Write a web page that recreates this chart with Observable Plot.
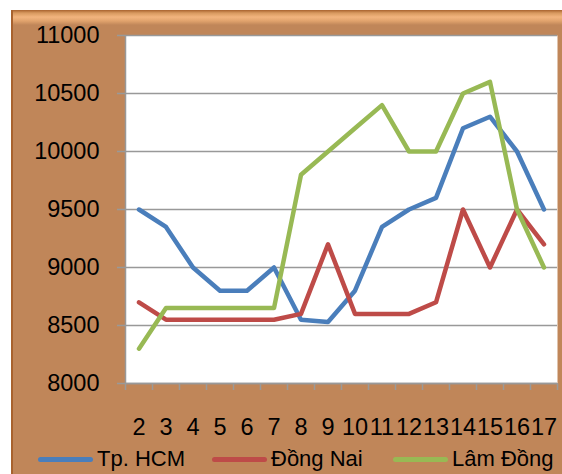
<!DOCTYPE html>
<html>
<head>
<meta charset="utf-8">
<script src="https://cdn.jsdelivr.net/npm/d3@7"></script>
<script src="https://cdn.jsdelivr.net/npm/@observablehq/plot@0.6"></script>
<style>
  html, body { margin: 0; padding: 0; background: #ffffff; }
  #frame {
    position: absolute; left: 11px; top: 10px; width: 551px; height: 464px;
    background: linear-gradient(to bottom, #a8622e 0px, #d8995f 3px, #f2b47e 7px, #e0a26c 11px, #c08659 15px, #c08659 100%);
    box-shadow: inset 2px 0 0 #a8622e;
    overflow: hidden;
    font-family: "Liberation Sans", Arial, sans-serif;
  }
  #chart { position: absolute; left: 0; top: 0; }
  #legend { position: absolute; left: 0; top: 434px; width: 551px; height: 30px; font-size: 22px; color: #000; }
  .item { position: absolute; top: 0; height: 30px; display: flex; align-items: center; white-space: nowrap; }
  .sw { width: 55px; height: 5px; border-radius: 3px; margin-right: 4px; }
</style>
</head>
<body>
<div id="frame">
  <div id="chart"></div>
  <div id="legend"></div>
</div>
<script>
const months = [2, 3, 4, 5, 6, 7, 8, 9, 10, 11, 12, 13, 14, 15, 16, 17];
const hcm     = [9500, 9350, 9000, 8800, 8800, 9000, 8550, 8530, 8800, 9350, 9500, 9600, 10200, 10300, 10000, 9500];
const dongNai = [8700, 8550, 8550, 8550, 8550, 8550, 8600, 9200, 8600, 8600, 8600, 8700, 9500, 9000, 9500, 9200];
const lamDong = [8300, 8650, 8650, 8650, 8650, 8650, 9800, 10000, 10200, 10400, 10000, 10000, 10500, 10600, 9500, 9000];
const seriesNames = ["Tp. HCM", "Đồng Nai", "Lâm Đồng"];
const seriesColors = ["#4a7ebb", "#be4b48", "#98b954"];
const yTicks = [8000, 8500, 9000, 9500, 10000, 10500, 11000];

const seriesValues = [hcm, dongNai, lamDong];
const rows = seriesNames.flatMap((name, i) =>
  months.map((m, j) => ({month: m, value: seriesValues[i][j], series: name})));
const edges = months.map(m => m - 0.5).concat([months[months.length - 1] + 0.5]);

const chart = Plot.plot({
  width: 551,
  height: 434,
  marginLeft: 114,
  marginRight: 5,
  marginTop: 25,
  marginBottom: 61,
  style: {background: "transparent", fontFamily: "Liberation Sans, Arial, sans-serif", fontSize: "23.5px", color: "#000"},
  x: {domain: [edges[0], edges[edges.length - 1]]},
  y: {domain: [8000, 11000]},
  color: {domain: seriesNames, range: seriesColors},
  marks: [
    Plot.frame({fill: "white", stroke: null}),
    Plot.gridY(yTicks, {stroke: "#999", strokeOpacity: 1, strokeWidth: 1.5}),
    Plot.ruleX([edges[0]], {stroke: "#999", strokeWidth: 1.5}),
    Plot.ruleY([8000], {stroke: "#999", strokeWidth: 1.5}),
    Plot.axisY(yTicks, {tickSize: 8, tickPadding: 18, stroke: "#999", strokeWidth: 1.5, fill: "#000", label: null, tickFormat: d => String(d)}),
    Plot.axisX(edges, {tickSize: 7, stroke: "#999", strokeWidth: 1.5, tickFormat: () => "", label: null}),
    Plot.axisX(months, {tickSize: 0, tickPadding: 35, fill: "#000", label: null, tickFormat: d => String(d)}),
    Plot.lineY(rows, {x: "month", y: "value", z: "series", stroke: "series", strokeWidth: 4.5, strokeLinecap: "round", strokeLinejoin: "round"})
  ]
});
document.getElementById("chart").appendChild(chart);

const legend = document.getElementById("legend");
const lefts = [27, 201, 382];
seriesNames.forEach((name, i) => {
  const item = document.createElement("div");
  item.className = "item";
  item.style.left = lefts[i] + "px";
  const sw = document.createElement("div");
  sw.className = "sw";
  sw.style.background = seriesColors[i];
  const tx = document.createElement("span");
  tx.textContent = name;
  item.appendChild(sw);
  item.appendChild(tx);
  legend.appendChild(item);
});
</script>
</body>
</html>
